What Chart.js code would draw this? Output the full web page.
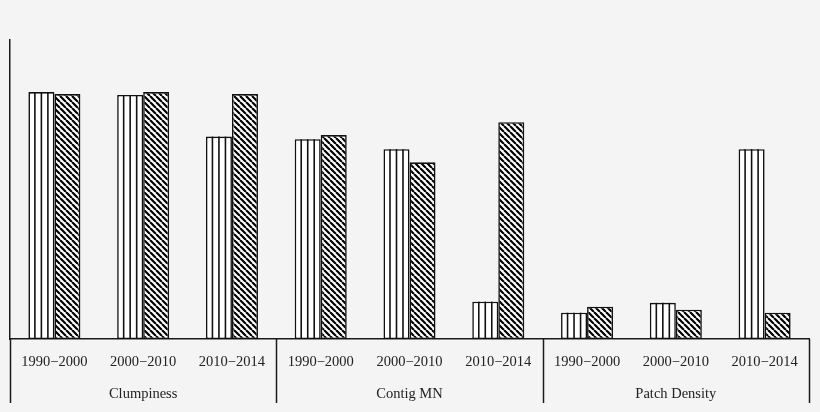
<!DOCTYPE html>
<html>
<head>
<meta charset="utf-8">
<script src="https://cdn.jsdelivr.net/npm/chart.js@4"></script>
<style>
    body { margin: 0; background: #f4f4f4; }
    #wrap { width: 820px; height: 412px; position: relative; }
</style>
</head>
<body>
<div id="wrap"><canvas id="landscapeChart"></canvas></div>
<script>
// Dados (escala relativa 0-100)
const periodos = ['1990−2000', '2000−2010', '2010−2014'];
const metricas = ['Clumpiness', 'Contig MN', 'Patch Density'];
const serieListras = [82.6, 81.6, 67.7, 66.8, 63.5, 12.5, 8.8, 12.1, 63.5];
const serieHachura = [81.9, 82.6, 81.9, 68.2, 59.1, 72.5, 10.8, 9.8, 8.8];

// rótulos em duas linhas: período e, no meio de cada bloco, a métrica
const rotulos = [];
metricas.forEach(function(m) {
    periodos.forEach(function(p, i) {
        rotulos.push([p, i === 1 ? m : '']);
    });
});

function criarHachura() {
    const s = 6;
    const c = document.createElement('canvas');
    c.width = s; c.height = s;
    const ctx = c.getContext('2d');
    ctx.fillStyle = '#ffffff';
    ctx.fillRect(0, 0, s, s);
    ctx.strokeStyle = '#000';
    ctx.lineWidth = 2.2;
    ctx.beginPath();
    [-s, 0, s].forEach(function(k) {
        ctx.moveTo(k, 0);
        ctx.lineTo(k + s, s);
    });
    ctx.stroke();
    return ctx.createPattern(c, 'repeat');
}

// listras verticais dentro das barras brancas
const listrasPlugin = {
    id: 'listras',
    afterDatasetsDraw: function(chart) {
        const ctx = chart.ctx;
        const meta = chart.getDatasetMeta(0);
        ctx.save();
        ctx.strokeStyle = '#111';
        ctx.lineWidth = 1.6;
        meta.data.forEach(function(el) {
            const p = el.getProps(['x', 'y', 'base', 'width'], true);
            const left = p.x - p.width / 2;
            for (let k = 1; k <= 3; k++) {
                const lx = left + p.width * k / 4;
                ctx.beginPath();
                ctx.moveTo(lx, p.y);
                ctx.lineTo(lx, p.base);
                ctx.stroke();
            }
        });
        ctx.restore();
    }
};

// divisórias abaixo do eixo entre os blocos
const divisoriasPlugin = {
    id: 'divisorias',
    beforeDraw: function(chart) {
        const ctx = chart.ctx;
        ctx.save();
        ctx.fillStyle = '#f4f4f4';
        ctx.fillRect(0, 0, chart.width, chart.height);
        ctx.restore();
    },
    afterDraw: function(chart) {
        const ctx = chart.ctx;
        const xs = chart.scales.x;
        const topo = chart.chartArea.bottom;
        const fim = xs.bottom;
        const posicoes = [xs.left];
        [3, 6].forEach(function(i) {
            posicoes.push((xs.getPixelForTick(i - 1) + xs.getPixelForTick(i)) / 2);
        });
        posicoes.push(xs.right);
        ctx.save();
        ctx.strokeStyle = '#1a1a1a';
        ctx.lineWidth = 1.5;
        posicoes.forEach(function(px) {
            ctx.beginPath();
            ctx.moveTo(Math.round(px) + 0.5, topo);
            ctx.lineTo(Math.round(px) + 0.5, fim);
            ctx.stroke();
        });
        ctx.restore();
    }
};

document.addEventListener('DOMContentLoaded', function() {
    const ctx = document.getElementById('landscapeChart');
    new Chart(ctx.getContext('2d'), {
        type: 'bar',
        data: {
            labels: rotulos,
            datasets: [{
                label: 'A',
                data: serieListras,
                backgroundColor: '#ffffff',
                borderColor: '#111',
                borderWidth: 1.6,
                borderSkipped: false
            }, {
                label: 'B',
                data: serieHachura,
                backgroundColor: criarHachura(),
                borderColor: '#111',
                borderWidth: 1.6,
                borderSkipped: false
            }]
        },
        options: {
            responsive: true,
            maintainAspectRatio: false,
            animation: false,
            layout: { padding: { left: 10, top: 40, right: 11, bottom: 9 } },
            datasets: { bar: { categoryPercentage: 0.586, barPercentage: 1.0 } },
            plugins: {
                legend: { display: false },
                tooltip: { enabled: false }
            },
            scales: {
                x: {
                    grid: { display: false },
                    border: { display: true, color: '#1a1a1a', width: 1.5 },
                    ticks: {
                        autoSkip: false,
                        maxRotation: 0,
                        padding: -1,
                        color: '#222',
                        font: { family: '"Liberation Serif", "Times New Roman", serif', size: 14.5, lineHeight: 2.2 }
                    },
                    afterFit: function(scale) { scale.height = 64; }
                },
                y: {
                    min: 0,
                    max: 100,
                    grid: { display: false },
                    border: { display: true, color: '#1a1a1a', width: 1.5 },
                    ticks: { display: false },
                    afterFit: function(scale) { scale.width = 0; }
                }
            }
        },
        plugins: [listrasPlugin, divisoriasPlugin]
    });
});
</script>
</body>
</html>
